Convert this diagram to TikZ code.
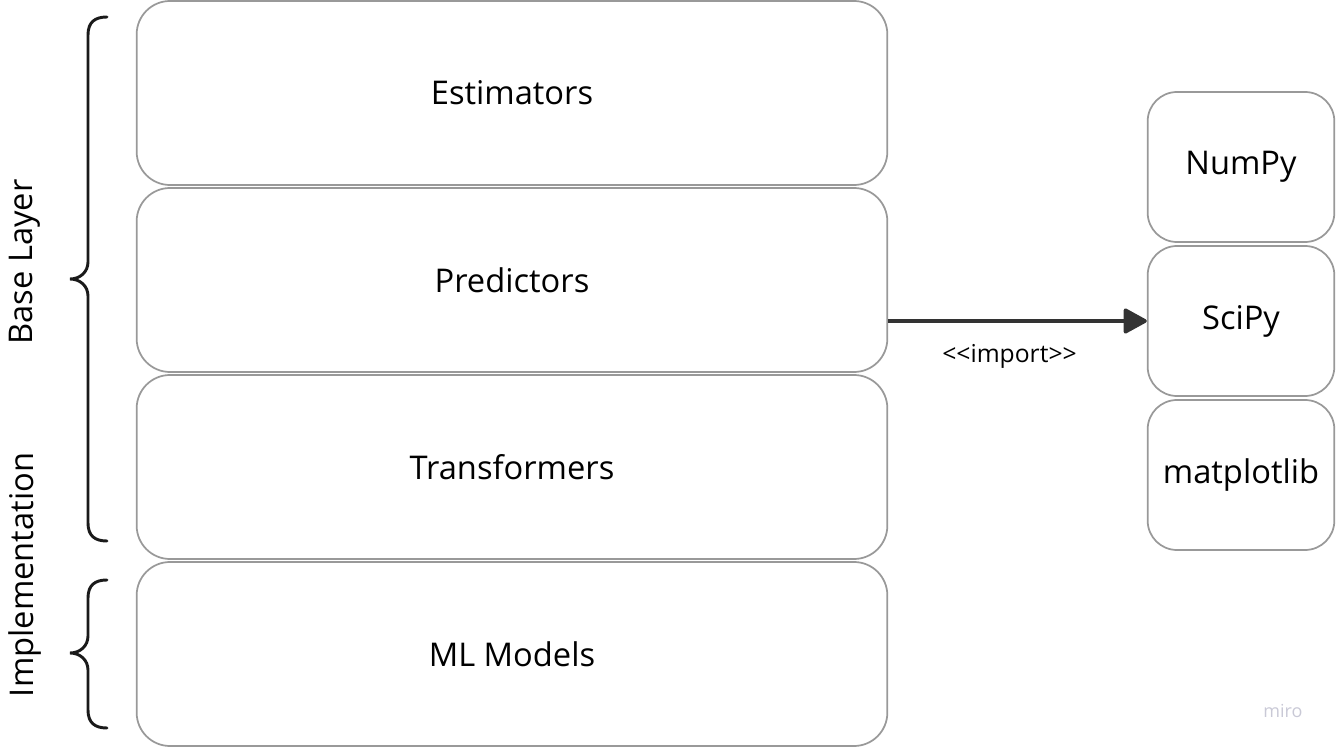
\documentclass[tikz,border=0pt]{standalone}
\usepackage{fontspec}
\setmainfont{Open Sans}
\usepackage{tikz}
\usetikzlibrary{arrows.meta}
\usetikzlibrary{calc}

\definecolor{boxgray}{HTML}{999999}
\definecolor{arrowgray}{HTML}{333333}
\definecolor{bracegray}{HTML}{1A1A1A}
\definecolor{mirogray}{HTML}{C9C9D6}

\tikzset{
  layerbox/.style={draw=boxgray, line width=1.3pt, rounded corners=25pt,
    minimum width=563pt, minimum height=138pt, inner sep=0pt,
    font=\fontsize{24.5}{29}\selectfont},
  libbox/.style={draw=boxgray, line width=1.3pt, rounded corners=22pt,
    minimum width=140pt, minimum height=112.5pt, inner sep=0pt,
    font=\fontsize{24.5}{29}\selectfont},
  sidelabel/.style={rotate=90, font=\fontsize{24.5}{29}\selectfont},
  bracepath/.style={draw=bracegray, line width=2.2pt, line cap=round}
}

\begin{document}
\begin{tikzpicture}[x=0.75pt, y=-0.75pt]
\useasboundingbox (0,0) rectangle (1336,748);

% layers
\node[layerbox] (est) at (512,93) {Estimators};
\node[layerbox] (pred) at (512,280) {Predictors};
\node[layerbox] (trans) at (512,467) {Transformers};
\node[layerbox] (ml) at (512,654) {ML Models};

% libraries
\node[libbox] (numpy) at (1241,167) {NumPy};
\node[libbox] (scipy) at (1241,321) {SciPy};
\node[libbox] (mpl) at (1241,475) {matplotlib};

\draw[draw=arrowgray, line width=2.8pt, -{Triangle[length=19pt, width=20pt, round]}]
  (pred.east |- scipy) -- (scipy.west)
  node[midway, below=13pt, xshift=-6pt, text=black, font=\fontsize{18.5}{22}\selectfont] (imp) {{<}{<}import{>}{>}};

% braces
\draw[bracepath] (107,17) .. controls (95,17) and (88,22) .. (88,35) -- (88,262)
  .. controls (88,272) and (80,279) .. (70,279)
  .. controls (80,279) and (88,286) .. (88,296) -- (88,523)
  .. controls (88,536) and (95,541) .. (107,541);
\draw[bracepath] (107,580) .. controls (95,580) and (88,585) .. (88,598) -- (88,636)
  .. controls (88,646) and (80,653) .. (70,653)
  .. controls (80,653) and (88,660) .. (88,670) -- (88,710)
  .. controls (88,723) and (95,728) .. (107,728);

\node[sidelabel] (base) at (25,262) {Base Layer};
\node[sidelabel] (impl) at (25,575) {Implementation};

\node[text=mirogray, font=\fontsize{13.5}{16}\selectfont] (miro) at (1283,711) {miro};
\end{tikzpicture}
\end{document}
